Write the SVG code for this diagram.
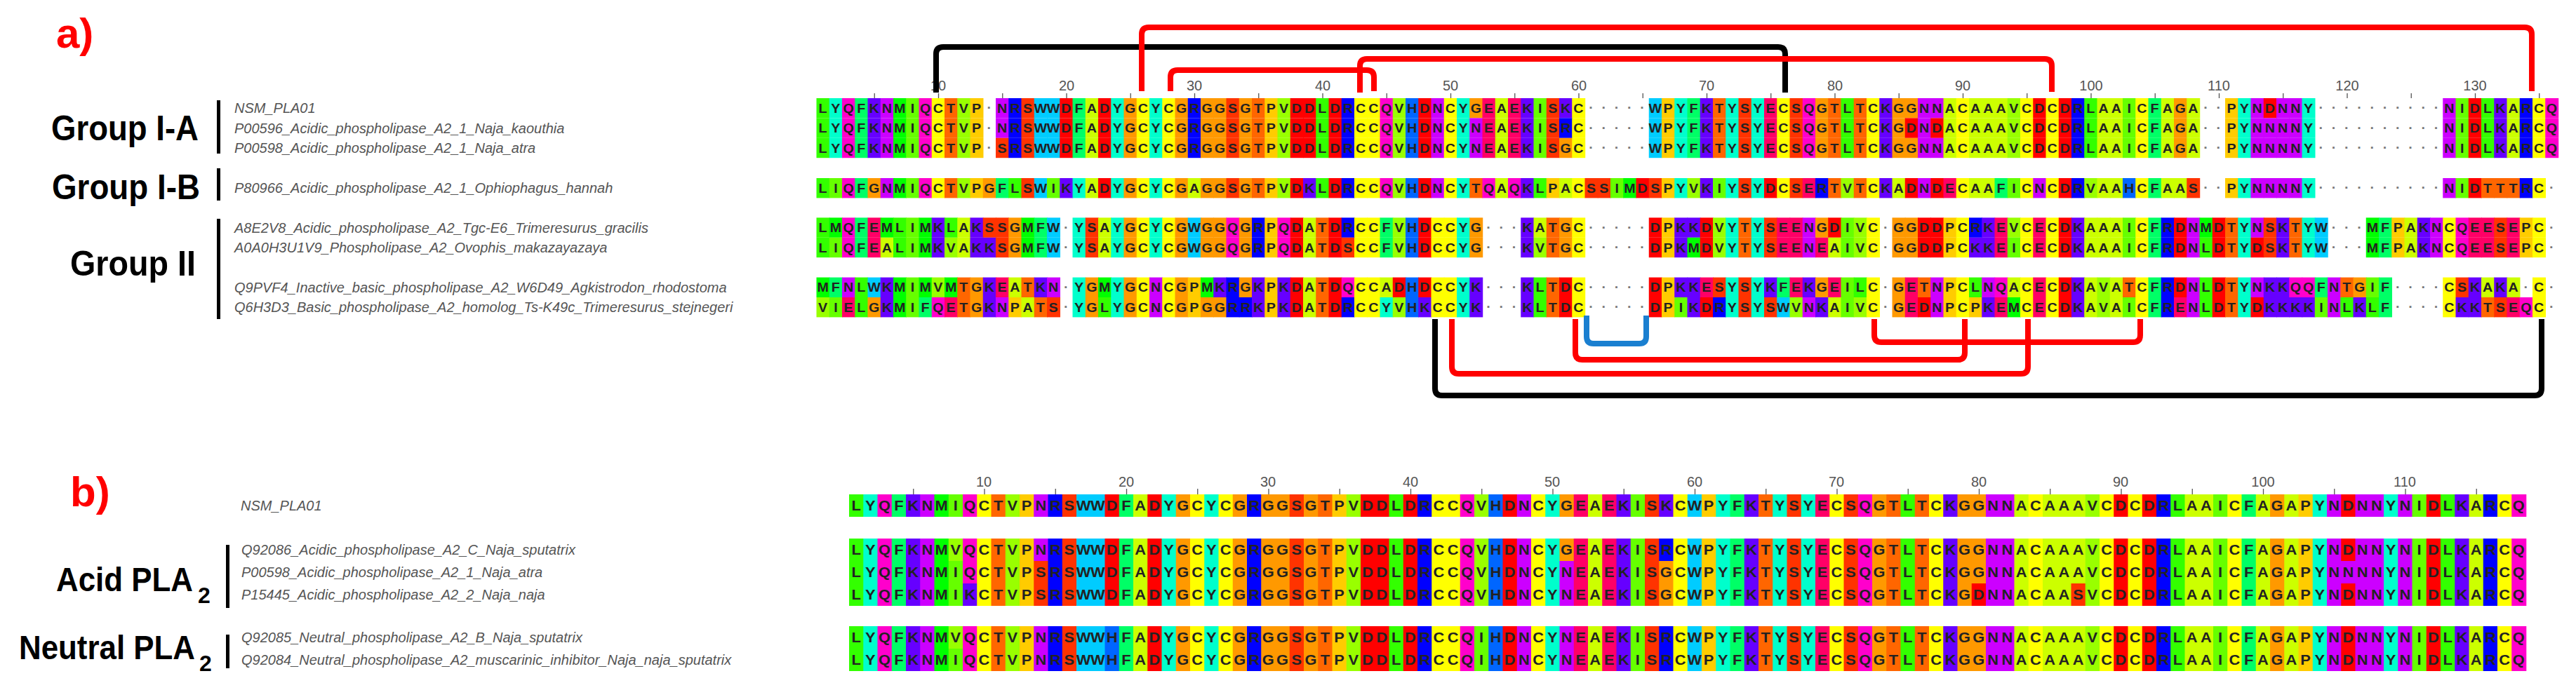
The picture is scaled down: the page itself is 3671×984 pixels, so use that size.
<svg xmlns="http://www.w3.org/2000/svg" width="3671" height="984" viewBox="0 0 3671 984">
<style>
.t{font-family:"Liberation Sans",Arial,sans-serif;font-size:18px;font-weight:bold;fill:#222;text-anchor:middle;transform:translate(.5px,.5px) scale(.06,.0352)}
.grp{font-family:"Liberation Sans",Arial,sans-serif;font-weight:bold;fill:#000}
.nm{font-family:"Liberation Sans",Arial,sans-serif;font-style:italic;font-size:20px;fill:#555}
.num{font-family:"Liberation Sans",Arial,sans-serif;font-size:20px;fill:#555;text-anchor:middle}
.lab{font-family:"Liberation Sans",Arial,sans-serif;font-weight:bold;font-size:60px;fill:#ff0000}
.bar{fill:#000}
.ln{fill:none;stroke-width:8;stroke-linecap:butt;stroke-linejoin:round}
.s>:nth-child(2){transform:translate(1px)}.s>:nth-child(3){transform:translate(2px)}.s>:nth-child(4){transform:translate(3px)}.s>:nth-child(5){transform:translate(4px)}.s>:nth-child(6){transform:translate(5px)}.s>:nth-child(7){transform:translate(6px)}.s>:nth-child(8){transform:translate(7px)}.s>:nth-child(9){transform:translate(8px)}.s>:nth-child(10){transform:translate(9px)}
.s>:nth-child(11){transform:translate(10px)}.s>:nth-child(12){transform:translate(11px)}.s>:nth-child(13){transform:translate(12px)}.s>:nth-child(14){transform:translate(13px)}.s>:nth-child(15){transform:translate(14px)}.s>:nth-child(16){transform:translate(15px)}.s>:nth-child(17){transform:translate(16px)}.s>:nth-child(18){transform:translate(17px)}.s>:nth-child(19){transform:translate(18px)}.s>:nth-child(20){transform:translate(19px)}
.s>:nth-child(21){transform:translate(20px)}.s>:nth-child(22){transform:translate(21px)}.s>:nth-child(23){transform:translate(22px)}.s>:nth-child(24){transform:translate(23px)}.s>:nth-child(25){transform:translate(24px)}.s>:nth-child(26){transform:translate(25px)}.s>:nth-child(27){transform:translate(26px)}.s>:nth-child(28){transform:translate(27px)}.s>:nth-child(29){transform:translate(28px)}.s>:nth-child(30){transform:translate(29px)}
.s>:nth-child(31){transform:translate(30px)}.s>:nth-child(32){transform:translate(31px)}.s>:nth-child(33){transform:translate(32px)}.s>:nth-child(34){transform:translate(33px)}.s>:nth-child(35){transform:translate(34px)}.s>:nth-child(36){transform:translate(35px)}.s>:nth-child(37){transform:translate(36px)}.s>:nth-child(38){transform:translate(37px)}.s>:nth-child(39){transform:translate(38px)}.s>:nth-child(40){transform:translate(39px)}
.s>:nth-child(41){transform:translate(40px)}.s>:nth-child(42){transform:translate(41px)}.s>:nth-child(43){transform:translate(42px)}.s>:nth-child(44){transform:translate(43px)}.s>:nth-child(45){transform:translate(44px)}.s>:nth-child(46){transform:translate(45px)}.s>:nth-child(47){transform:translate(46px)}.s>:nth-child(48){transform:translate(47px)}.s>:nth-child(49){transform:translate(48px)}.s>:nth-child(50){transform:translate(49px)}
.s>:nth-child(51){transform:translate(50px)}.s>:nth-child(52){transform:translate(51px)}.s>:nth-child(53){transform:translate(52px)}.s>:nth-child(54){transform:translate(53px)}.s>:nth-child(55){transform:translate(54px)}.s>:nth-child(56){transform:translate(55px)}.s>:nth-child(57){transform:translate(56px)}.s>:nth-child(58){transform:translate(57px)}.s>:nth-child(59){transform:translate(58px)}.s>:nth-child(60){transform:translate(59px)}
.s>:nth-child(61){transform:translate(60px)}.s>:nth-child(62){transform:translate(61px)}.s>:nth-child(63){transform:translate(62px)}.s>:nth-child(64){transform:translate(63px)}.s>:nth-child(65){transform:translate(64px)}.s>:nth-child(66){transform:translate(65px)}.s>:nth-child(67){transform:translate(66px)}.s>:nth-child(68){transform:translate(67px)}.s>:nth-child(69){transform:translate(68px)}.s>:nth-child(70){transform:translate(69px)}
.s>:nth-child(71){transform:translate(70px)}.s>:nth-child(72){transform:translate(71px)}.s>:nth-child(73){transform:translate(72px)}.s>:nth-child(74){transform:translate(73px)}.s>:nth-child(75){transform:translate(74px)}.s>:nth-child(76){transform:translate(75px)}.s>:nth-child(77){transform:translate(76px)}.s>:nth-child(78){transform:translate(77px)}.s>:nth-child(79){transform:translate(78px)}.s>:nth-child(80){transform:translate(79px)}
.s>:nth-child(81){transform:translate(80px)}.s>:nth-child(82){transform:translate(81px)}.s>:nth-child(83){transform:translate(82px)}.s>:nth-child(84){transform:translate(83px)}.s>:nth-child(85){transform:translate(84px)}.s>:nth-child(86){transform:translate(85px)}.s>:nth-child(87){transform:translate(86px)}.s>:nth-child(88){transform:translate(87px)}.s>:nth-child(89){transform:translate(88px)}.s>:nth-child(90){transform:translate(89px)}
.s>:nth-child(91){transform:translate(90px)}.s>:nth-child(92){transform:translate(91px)}.s>:nth-child(93){transform:translate(92px)}.s>:nth-child(94){transform:translate(93px)}.s>:nth-child(95){transform:translate(94px)}.s>:nth-child(96){transform:translate(95px)}.s>:nth-child(97){transform:translate(96px)}.s>:nth-child(98){transform:translate(97px)}.s>:nth-child(99){transform:translate(98px)}.s>:nth-child(100){transform:translate(99px)}
.s>:nth-child(101){transform:translate(100px)}.s>:nth-child(102){transform:translate(101px)}.s>:nth-child(103){transform:translate(102px)}.s>:nth-child(104){transform:translate(103px)}.s>:nth-child(105){transform:translate(104px)}.s>:nth-child(106){transform:translate(105px)}.s>:nth-child(107){transform:translate(106px)}.s>:nth-child(108){transform:translate(107px)}.s>:nth-child(109){transform:translate(108px)}.s>:nth-child(110){transform:translate(109px)}
.s>:nth-child(111){transform:translate(110px)}.s>:nth-child(112){transform:translate(111px)}.s>:nth-child(113){transform:translate(112px)}.s>:nth-child(114){transform:translate(113px)}.s>:nth-child(115){transform:translate(114px)}.s>:nth-child(116){transform:translate(115px)}.s>:nth-child(117){transform:translate(116px)}.s>:nth-child(118){transform:translate(117px)}.s>:nth-child(119){transform:translate(118px)}.s>:nth-child(120){transform:translate(119px)}
.s>:nth-child(121){transform:translate(120px)}.s>:nth-child(122){transform:translate(121px)}.s>:nth-child(123){transform:translate(122px)}.s>:nth-child(124){transform:translate(123px)}.s>:nth-child(125){transform:translate(124px)}.s>:nth-child(126){transform:translate(125px)}.s>:nth-child(127){transform:translate(126px)}.s>:nth-child(128){transform:translate(127px)}.s>:nth-child(129){transform:translate(128px)}.s>:nth-child(130){transform:translate(129px)}
.s>:nth-child(131){transform:translate(130px)}.s>:nth-child(132){transform:translate(131px)}.s>:nth-child(133){transform:translate(132px)}.s>:nth-child(134){transform:translate(133px)}.s>:nth-child(135){transform:translate(134px)}.s>:nth-child(136){transform:translate(135px)}
</style>
<defs>
<g id="A"><rect width="1.04" height="1" fill="#CCFF00"/><text class="t" y="6.5">A</text></g>
<g id="R"><rect width="1.04" height="1" fill="#0000FF"/><text class="t" y="6.5">R</text></g>
<g id="N"><rect width="1.04" height="1" fill="#CC00FF"/><text class="t" y="6.5">N</text></g>
<g id="D"><rect width="1.04" height="1" fill="#FF0000"/><text class="t" y="6.5">D</text></g>
<g id="C"><rect width="1.04" height="1" fill="#FFFF00"/><text class="t" y="6.5">C</text></g>
<g id="Q"><rect width="1.04" height="1" fill="#FF00CC"/><text class="t" y="6.5">Q</text></g>
<g id="E"><rect width="1.04" height="1" fill="#FF0066"/><text class="t" y="6.5">E</text></g>
<g id="G"><rect width="1.04" height="1" fill="#FF9900"/><text class="t" y="6.5">G</text></g>
<g id="H"><rect width="1.04" height="1" fill="#0066FF"/><text class="t" y="6.5">H</text></g>
<g id="I"><rect width="1.04" height="1" fill="#66FF00"/><text class="t" y="6.5">I</text></g>
<g id="L"><rect width="1.04" height="1" fill="#33FF00"/><text class="t" y="6.5">L</text></g>
<g id="K"><rect width="1.04" height="1" fill="#6600FF"/><text class="t" y="6.5">K</text></g>
<g id="M"><rect width="1.04" height="1" fill="#00FF00"/><text class="t" y="6.5">M</text></g>
<g id="F"><rect width="1.04" height="1" fill="#00FF66"/><text class="t" y="6.5">F</text></g>
<g id="P"><rect width="1.04" height="1" fill="#FFCC00"/><text class="t" y="6.5">P</text></g>
<g id="S"><rect width="1.04" height="1" fill="#FF3300"/><text class="t" y="6.5">S</text></g>
<g id="T"><rect width="1.04" height="1" fill="#FF6600"/><text class="t" y="6.5">T</text></g>
<g id="W"><rect width="1.04" height="1" fill="#00CCFF"/><text class="t" y="6.5">W</text></g>
<g id="Y"><rect width="1.04" height="1" fill="#00FFCC"/><text class="t" y="6.5">Y</text></g>
<g id="V"><rect width="1.04" height="1" fill="#99FF00"/><text class="t" y="6.5">V</text></g>
<g id="z"><text class="t" y="6" style="fill:#777">·</text></g>
</defs>
<rect width="3671" height="984" fill="#fff"/>

<g id="panel-a-labels">
<text class="lab" x="80" y="68">a)</text>
<text class="grp" x="73" y="200" font-size="50" textLength="210" lengthAdjust="spacingAndGlyphs">Group I-A</text>
<text class="grp" x="74" y="284" font-size="50" textLength="211" lengthAdjust="spacingAndGlyphs">Group I-B</text>
<text class="grp" x="100" y="393" font-size="50" textLength="179" lengthAdjust="spacingAndGlyphs">Group II</text>
<rect class="bar" x="309" y="143" width="5" height="76"/>
<rect class="bar" x="309" y="240" width="5" height="46"/>
<rect class="bar" x="309" y="312" width="5" height="143"/>
</g>
<g id="names-a">
<text class="nm" x="334" y="161">NSM_PLA01</text>
<text class="nm" x="334" y="190">P00596_Acidic_phospholipase_A2_1_Naja_kaouthia</text>
<text class="nm" x="334" y="218">P00598_Acidic_phospholipase_A2_1_Naja_atra</text>
<text class="nm" x="334" y="275">P80966_Acidic_phospholipase_A2_1_Ophiophagus_hannah</text>
<text class="nm" x="334" y="332">A8E2V8_Acidic_phospholipase_A2_Tgc-E6_Trimeresurus_gracilis</text>
<text class="nm" x="334" y="360">A0A0H3U1V9_Phospholipase_A2_Ovophis_makazayazaya</text>
<text class="nm" x="334" y="417">Q9PVF4_Inactive_basic_phospholipase_A2_W6D49_Agkistrodon_rhodostoma</text>
<text class="nm" x="334" y="445">Q6H3D3_Basic_phospholipase_A2_homolog_Ts-K49c_Trimeresurus_stejnegeri</text>
</g>
<g id="ruler-a">
<path d="M1245.6 136.5H3620" stroke="#555" stroke-width="7" stroke-dasharray="1.3 89.95"/>
<text class="num" x="1337" y="129">10</text><text class="num" x="1520" y="129">20</text><text class="num" x="1702" y="129">30</text><text class="num" x="1885" y="129">40</text><text class="num" x="2067" y="129">50</text><text class="num" x="2250" y="129">60</text><text class="num" x="2432" y="129">70</text><text class="num" x="2615" y="129">80</text><text class="num" x="2797" y="129">90</text><text class="num" x="2980" y="129">100</text><text class="num" x="3162" y="129">110</text><text class="num" x="3345" y="129">120</text><text class="num" x="3527" y="129">130</text>
</g>

<g id="seq-a1" class="s" transform="translate(1163.5,140) scale(18.25,28.4)"><use href="#L"/><use href="#Y"/><use href="#Q"/><use href="#F"/><use href="#K"/><use href="#N"/><use href="#M"/><use href="#I"/><use href="#Q"/><use href="#C"/><use href="#T"/><use href="#V"/><use href="#P"/><use href="#z"/><use href="#N"/><use href="#R"/><use href="#S"/><use href="#W"/><use href="#W"/><use href="#D"/><use href="#F"/><use href="#A"/><use href="#D"/><use href="#Y"/><use href="#G"/><use href="#C"/><use href="#Y"/><use href="#C"/><use href="#G"/><use href="#R"/><use href="#G"/><use href="#G"/><use href="#S"/><use href="#G"/><use href="#T"/><use href="#P"/><use href="#V"/><use href="#D"/><use href="#D"/><use href="#L"/><use href="#D"/><use href="#R"/><use href="#C"/><use href="#C"/><use href="#Q"/><use href="#V"/><use href="#H"/><use href="#D"/><use href="#N"/><use href="#C"/><use href="#Y"/><use href="#G"/><use href="#E"/><use href="#A"/><use href="#E"/><use href="#K"/><use href="#I"/><use href="#S"/><use href="#K"/><use href="#C"/><use href="#z"/><use href="#z"/><use href="#z"/><use href="#z"/><use href="#z"/><use href="#W"/><use href="#P"/><use href="#Y"/><use href="#F"/><use href="#K"/><use href="#T"/><use href="#Y"/><use href="#S"/><use href="#Y"/><use href="#E"/><use href="#C"/><use href="#S"/><use href="#Q"/><use href="#G"/><use href="#T"/><use href="#L"/><use href="#T"/><use href="#C"/><use href="#K"/><use href="#G"/><use href="#G"/><use href="#N"/><use href="#N"/><use href="#A"/><use href="#C"/><use href="#A"/><use href="#A"/><use href="#A"/><use href="#V"/><use href="#C"/><use href="#D"/><use href="#C"/><use href="#D"/><use href="#R"/><use href="#L"/><use href="#A"/><use href="#A"/><use href="#I"/><use href="#C"/><use href="#F"/><use href="#A"/><use href="#G"/><use href="#A"/><use href="#z"/><use href="#z"/><use href="#P"/><use href="#Y"/><use href="#N"/><use href="#D"/><use href="#N"/><use href="#N"/><use href="#Y"/><use href="#z"/><use href="#z"/><use href="#z"/><use href="#z"/><use href="#z"/><use href="#z"/><use href="#z"/><use href="#z"/><use href="#z"/><use href="#z"/><use href="#N"/><use href="#I"/><use href="#D"/><use href="#L"/><use href="#K"/><use href="#A"/><use href="#R"/><use href="#C"/><use href="#Q"/></g>

<g id="seq-a2" class="s" transform="translate(1163.5,168.4) scale(18.25,28.4)"><use href="#L"/><use href="#Y"/><use href="#Q"/><use href="#F"/><use href="#K"/><use href="#N"/><use href="#M"/><use href="#I"/><use href="#Q"/><use href="#C"/><use href="#T"/><use href="#V"/><use href="#P"/><use href="#z"/><use href="#N"/><use href="#R"/><use href="#S"/><use href="#W"/><use href="#W"/><use href="#D"/><use href="#F"/><use href="#A"/><use href="#D"/><use href="#Y"/><use href="#G"/><use href="#C"/><use href="#Y"/><use href="#C"/><use href="#G"/><use href="#R"/><use href="#G"/><use href="#G"/><use href="#S"/><use href="#G"/><use href="#T"/><use href="#P"/><use href="#V"/><use href="#D"/><use href="#D"/><use href="#L"/><use href="#D"/><use href="#R"/><use href="#C"/><use href="#C"/><use href="#Q"/><use href="#V"/><use href="#H"/><use href="#D"/><use href="#N"/><use href="#C"/><use href="#Y"/><use href="#N"/><use href="#E"/><use href="#A"/><use href="#E"/><use href="#K"/><use href="#I"/><use href="#S"/><use href="#R"/><use href="#C"/><use href="#z"/><use href="#z"/><use href="#z"/><use href="#z"/><use href="#z"/><use href="#W"/><use href="#P"/><use href="#Y"/><use href="#F"/><use href="#K"/><use href="#T"/><use href="#Y"/><use href="#S"/><use href="#Y"/><use href="#E"/><use href="#C"/><use href="#S"/><use href="#Q"/><use href="#G"/><use href="#T"/><use href="#L"/><use href="#T"/><use href="#C"/><use href="#K"/><use href="#G"/><use href="#D"/><use href="#N"/><use href="#D"/><use href="#A"/><use href="#C"/><use href="#A"/><use href="#A"/><use href="#A"/><use href="#V"/><use href="#C"/><use href="#D"/><use href="#C"/><use href="#D"/><use href="#R"/><use href="#L"/><use href="#A"/><use href="#A"/><use href="#I"/><use href="#C"/><use href="#F"/><use href="#A"/><use href="#G"/><use href="#A"/><use href="#z"/><use href="#z"/><use href="#P"/><use href="#Y"/><use href="#N"/><use href="#N"/><use href="#N"/><use href="#N"/><use href="#Y"/><use href="#z"/><use href="#z"/><use href="#z"/><use href="#z"/><use href="#z"/><use href="#z"/><use href="#z"/><use href="#z"/><use href="#z"/><use href="#z"/><use href="#N"/><use href="#I"/><use href="#D"/><use href="#L"/><use href="#K"/><use href="#A"/><use href="#R"/><use href="#C"/><use href="#Q"/></g>

<g id="seq-a3" class="s" transform="translate(1163.5,196.8) scale(18.25,28.4)"><use href="#L"/><use href="#Y"/><use href="#Q"/><use href="#F"/><use href="#K"/><use href="#N"/><use href="#M"/><use href="#I"/><use href="#Q"/><use href="#C"/><use href="#T"/><use href="#V"/><use href="#P"/><use href="#z"/><use href="#S"/><use href="#R"/><use href="#S"/><use href="#W"/><use href="#W"/><use href="#D"/><use href="#F"/><use href="#A"/><use href="#D"/><use href="#Y"/><use href="#G"/><use href="#C"/><use href="#Y"/><use href="#C"/><use href="#G"/><use href="#R"/><use href="#G"/><use href="#G"/><use href="#S"/><use href="#G"/><use href="#T"/><use href="#P"/><use href="#V"/><use href="#D"/><use href="#D"/><use href="#L"/><use href="#D"/><use href="#R"/><use href="#C"/><use href="#C"/><use href="#Q"/><use href="#V"/><use href="#H"/><use href="#D"/><use href="#N"/><use href="#C"/><use href="#Y"/><use href="#N"/><use href="#E"/><use href="#A"/><use href="#E"/><use href="#K"/><use href="#I"/><use href="#S"/><use href="#G"/><use href="#C"/><use href="#z"/><use href="#z"/><use href="#z"/><use href="#z"/><use href="#z"/><use href="#W"/><use href="#P"/><use href="#Y"/><use href="#F"/><use href="#K"/><use href="#T"/><use href="#Y"/><use href="#S"/><use href="#Y"/><use href="#E"/><use href="#C"/><use href="#S"/><use href="#Q"/><use href="#G"/><use href="#T"/><use href="#L"/><use href="#T"/><use href="#C"/><use href="#K"/><use href="#G"/><use href="#G"/><use href="#N"/><use href="#N"/><use href="#A"/><use href="#C"/><use href="#A"/><use href="#A"/><use href="#A"/><use href="#V"/><use href="#C"/><use href="#D"/><use href="#C"/><use href="#D"/><use href="#R"/><use href="#L"/><use href="#A"/><use href="#A"/><use href="#I"/><use href="#C"/><use href="#F"/><use href="#A"/><use href="#G"/><use href="#A"/><use href="#z"/><use href="#z"/><use href="#P"/><use href="#Y"/><use href="#N"/><use href="#N"/><use href="#N"/><use href="#N"/><use href="#Y"/><use href="#z"/><use href="#z"/><use href="#z"/><use href="#z"/><use href="#z"/><use href="#z"/><use href="#z"/><use href="#z"/><use href="#z"/><use href="#z"/><use href="#N"/><use href="#I"/><use href="#D"/><use href="#L"/><use href="#K"/><use href="#A"/><use href="#R"/><use href="#C"/><use href="#Q"/></g>

<g id="seq-a4" class="s" transform="translate(1163.5,254) scale(18.25,28.4)"><use href="#L"/><use href="#I"/><use href="#Q"/><use href="#F"/><use href="#G"/><use href="#N"/><use href="#M"/><use href="#I"/><use href="#Q"/><use href="#C"/><use href="#T"/><use href="#V"/><use href="#P"/><use href="#G"/><use href="#F"/><use href="#L"/><use href="#S"/><use href="#W"/><use href="#I"/><use href="#K"/><use href="#Y"/><use href="#A"/><use href="#D"/><use href="#Y"/><use href="#G"/><use href="#C"/><use href="#Y"/><use href="#C"/><use href="#G"/><use href="#A"/><use href="#G"/><use href="#G"/><use href="#S"/><use href="#G"/><use href="#T"/><use href="#P"/><use href="#V"/><use href="#D"/><use href="#K"/><use href="#L"/><use href="#D"/><use href="#R"/><use href="#C"/><use href="#C"/><use href="#Q"/><use href="#V"/><use href="#H"/><use href="#D"/><use href="#N"/><use href="#C"/><use href="#Y"/><use href="#T"/><use href="#Q"/><use href="#A"/><use href="#Q"/><use href="#K"/><use href="#L"/><use href="#P"/><use href="#A"/><use href="#C"/><use href="#S"/><use href="#S"/><use href="#I"/><use href="#M"/><use href="#D"/><use href="#S"/><use href="#P"/><use href="#Y"/><use href="#V"/><use href="#K"/><use href="#I"/><use href="#Y"/><use href="#S"/><use href="#Y"/><use href="#D"/><use href="#C"/><use href="#S"/><use href="#E"/><use href="#R"/><use href="#T"/><use href="#V"/><use href="#T"/><use href="#C"/><use href="#K"/><use href="#A"/><use href="#D"/><use href="#N"/><use href="#D"/><use href="#E"/><use href="#C"/><use href="#A"/><use href="#A"/><use href="#F"/><use href="#I"/><use href="#C"/><use href="#N"/><use href="#C"/><use href="#D"/><use href="#R"/><use href="#V"/><use href="#A"/><use href="#A"/><use href="#H"/><use href="#C"/><use href="#F"/><use href="#A"/><use href="#A"/><use href="#S"/><use href="#z"/><use href="#z"/><use href="#P"/><use href="#Y"/><use href="#N"/><use href="#N"/><use href="#N"/><use href="#N"/><use href="#Y"/><use href="#z"/><use href="#z"/><use href="#z"/><use href="#z"/><use href="#z"/><use href="#z"/><use href="#z"/><use href="#z"/><use href="#z"/><use href="#z"/><use href="#N"/><use href="#I"/><use href="#D"/><use href="#T"/><use href="#T"/><use href="#T"/><use href="#R"/><use href="#C"/><use href="#z"/></g>

<g id="seq-a5" class="s" transform="translate(1163.5,310.4) scale(18.25,28.4)"><use href="#L"/><use href="#M"/><use href="#Q"/><use href="#F"/><use href="#E"/><use href="#M"/><use href="#L"/><use href="#I"/><use href="#M"/><use href="#K"/><use href="#L"/><use href="#A"/><use href="#K"/><use href="#S"/><use href="#S"/><use href="#G"/><use href="#M"/><use href="#F"/><use href="#W"/><use href="#z"/><use href="#Y"/><use href="#S"/><use href="#A"/><use href="#Y"/><use href="#G"/><use href="#C"/><use href="#Y"/><use href="#C"/><use href="#G"/><use href="#W"/><use href="#G"/><use href="#G"/><use href="#Q"/><use href="#G"/><use href="#R"/><use href="#P"/><use href="#Q"/><use href="#D"/><use href="#A"/><use href="#T"/><use href="#D"/><use href="#R"/><use href="#C"/><use href="#C"/><use href="#F"/><use href="#V"/><use href="#H"/><use href="#D"/><use href="#C"/><use href="#C"/><use href="#Y"/><use href="#G"/><use href="#z"/><use href="#z"/><use href="#z"/><use href="#K"/><use href="#A"/><use href="#T"/><use href="#G"/><use href="#C"/><use href="#z"/><use href="#z"/><use href="#z"/><use href="#z"/><use href="#z"/><use href="#D"/><use href="#P"/><use href="#K"/><use href="#K"/><use href="#D"/><use href="#V"/><use href="#Y"/><use href="#T"/><use href="#Y"/><use href="#S"/><use href="#E"/><use href="#E"/><use href="#N"/><use href="#G"/><use href="#D"/><use href="#I"/><use href="#V"/><use href="#C"/><use href="#z"/><use href="#G"/><use href="#G"/><use href="#D"/><use href="#D"/><use href="#P"/><use href="#C"/><use href="#R"/><use href="#K"/><use href="#E"/><use href="#V"/><use href="#C"/><use href="#E"/><use href="#C"/><use href="#D"/><use href="#K"/><use href="#A"/><use href="#A"/><use href="#A"/><use href="#I"/><use href="#C"/><use href="#F"/><use href="#R"/><use href="#D"/><use href="#N"/><use href="#M"/><use href="#D"/><use href="#T"/><use href="#Y"/><use href="#N"/><use href="#S"/><use href="#K"/><use href="#T"/><use href="#Y"/><use href="#W"/><use href="#z"/><use href="#z"/><use href="#z"/><use href="#M"/><use href="#F"/><use href="#P"/><use href="#A"/><use href="#K"/><use href="#N"/><use href="#C"/><use href="#Q"/><use href="#E"/><use href="#E"/><use href="#S"/><use href="#E"/><use href="#P"/><use href="#C"/><use href="#z"/></g>

<g id="seq-a6" class="s" transform="translate(1163.5,338.8) scale(18.25,28.4)"><use href="#L"/><use href="#I"/><use href="#Q"/><use href="#F"/><use href="#E"/><use href="#A"/><use href="#L"/><use href="#I"/><use href="#M"/><use href="#K"/><use href="#V"/><use href="#A"/><use href="#K"/><use href="#K"/><use href="#S"/><use href="#G"/><use href="#M"/><use href="#F"/><use href="#W"/><use href="#z"/><use href="#Y"/><use href="#S"/><use href="#A"/><use href="#Y"/><use href="#G"/><use href="#C"/><use href="#Y"/><use href="#C"/><use href="#G"/><use href="#W"/><use href="#G"/><use href="#G"/><use href="#Q"/><use href="#G"/><use href="#R"/><use href="#P"/><use href="#Q"/><use href="#D"/><use href="#A"/><use href="#T"/><use href="#D"/><use href="#S"/><use href="#C"/><use href="#C"/><use href="#F"/><use href="#V"/><use href="#H"/><use href="#D"/><use href="#C"/><use href="#C"/><use href="#Y"/><use href="#G"/><use href="#z"/><use href="#z"/><use href="#z"/><use href="#K"/><use href="#V"/><use href="#T"/><use href="#G"/><use href="#C"/><use href="#z"/><use href="#z"/><use href="#z"/><use href="#z"/><use href="#z"/><use href="#D"/><use href="#P"/><use href="#K"/><use href="#M"/><use href="#D"/><use href="#V"/><use href="#Y"/><use href="#T"/><use href="#Y"/><use href="#S"/><use href="#E"/><use href="#E"/><use href="#N"/><use href="#E"/><use href="#A"/><use href="#I"/><use href="#V"/><use href="#C"/><use href="#z"/><use href="#G"/><use href="#G"/><use href="#D"/><use href="#D"/><use href="#P"/><use href="#C"/><use href="#K"/><use href="#K"/><use href="#E"/><use href="#I"/><use href="#C"/><use href="#E"/><use href="#C"/><use href="#D"/><use href="#K"/><use href="#A"/><use href="#A"/><use href="#A"/><use href="#I"/><use href="#C"/><use href="#F"/><use href="#R"/><use href="#D"/><use href="#N"/><use href="#L"/><use href="#D"/><use href="#T"/><use href="#Y"/><use href="#D"/><use href="#S"/><use href="#K"/><use href="#T"/><use href="#Y"/><use href="#W"/><use href="#z"/><use href="#z"/><use href="#z"/><use href="#M"/><use href="#F"/><use href="#P"/><use href="#A"/><use href="#K"/><use href="#N"/><use href="#C"/><use href="#Q"/><use href="#E"/><use href="#E"/><use href="#S"/><use href="#E"/><use href="#P"/><use href="#C"/><use href="#z"/></g>

<g id="seq-a7" class="s" transform="translate(1163.5,395.6) scale(18.25,28.4)"><use href="#M"/><use href="#F"/><use href="#N"/><use href="#L"/><use href="#W"/><use href="#K"/><use href="#M"/><use href="#I"/><use href="#M"/><use href="#V"/><use href="#M"/><use href="#T"/><use href="#G"/><use href="#K"/><use href="#E"/><use href="#A"/><use href="#T"/><use href="#K"/><use href="#N"/><use href="#z"/><use href="#Y"/><use href="#G"/><use href="#M"/><use href="#Y"/><use href="#G"/><use href="#C"/><use href="#N"/><use href="#C"/><use href="#G"/><use href="#P"/><use href="#M"/><use href="#K"/><use href="#R"/><use href="#G"/><use href="#K"/><use href="#P"/><use href="#K"/><use href="#D"/><use href="#A"/><use href="#T"/><use href="#D"/><use href="#Q"/><use href="#C"/><use href="#C"/><use href="#A"/><use href="#D"/><use href="#H"/><use href="#D"/><use href="#C"/><use href="#C"/><use href="#Y"/><use href="#K"/><use href="#z"/><use href="#z"/><use href="#z"/><use href="#K"/><use href="#L"/><use href="#T"/><use href="#D"/><use href="#C"/><use href="#z"/><use href="#z"/><use href="#z"/><use href="#z"/><use href="#z"/><use href="#D"/><use href="#P"/><use href="#K"/><use href="#K"/><use href="#E"/><use href="#S"/><use href="#Y"/><use href="#S"/><use href="#Y"/><use href="#K"/><use href="#F"/><use href="#E"/><use href="#K"/><use href="#G"/><use href="#E"/><use href="#I"/><use href="#L"/><use href="#C"/><use href="#z"/><use href="#G"/><use href="#E"/><use href="#T"/><use href="#N"/><use href="#P"/><use href="#C"/><use href="#L"/><use href="#N"/><use href="#Q"/><use href="#A"/><use href="#C"/><use href="#E"/><use href="#C"/><use href="#D"/><use href="#K"/><use href="#A"/><use href="#V"/><use href="#A"/><use href="#T"/><use href="#C"/><use href="#F"/><use href="#R"/><use href="#D"/><use href="#N"/><use href="#L"/><use href="#D"/><use href="#T"/><use href="#Y"/><use href="#N"/><use href="#K"/><use href="#K"/><use href="#Q"/><use href="#Q"/><use href="#F"/><use href="#N"/><use href="#T"/><use href="#G"/><use href="#I"/><use href="#F"/><use href="#z"/><use href="#z"/><use href="#z"/><use href="#z"/><use href="#C"/><use href="#S"/><use href="#K"/><use href="#A"/><use href="#K"/><use href="#A"/><use href="#z"/><use href="#C"/><use href="#z"/></g>

<g id="seq-a8" class="s" transform="translate(1163.5,424) scale(18.25,28.4)"><use href="#V"/><use href="#I"/><use href="#E"/><use href="#L"/><use href="#G"/><use href="#K"/><use href="#M"/><use href="#I"/><use href="#F"/><use href="#Q"/><use href="#E"/><use href="#T"/><use href="#G"/><use href="#K"/><use href="#N"/><use href="#P"/><use href="#A"/><use href="#T"/><use href="#S"/><use href="#z"/><use href="#Y"/><use href="#G"/><use href="#L"/><use href="#Y"/><use href="#G"/><use href="#C"/><use href="#N"/><use href="#C"/><use href="#G"/><use href="#P"/><use href="#G"/><use href="#G"/><use href="#R"/><use href="#R"/><use href="#K"/><use href="#P"/><use href="#K"/><use href="#D"/><use href="#A"/><use href="#T"/><use href="#D"/><use href="#R"/><use href="#C"/><use href="#C"/><use href="#Y"/><use href="#V"/><use href="#H"/><use href="#K"/><use href="#C"/><use href="#C"/><use href="#Y"/><use href="#K"/><use href="#z"/><use href="#z"/><use href="#z"/><use href="#K"/><use href="#L"/><use href="#T"/><use href="#D"/><use href="#C"/><use href="#z"/><use href="#z"/><use href="#z"/><use href="#z"/><use href="#z"/><use href="#D"/><use href="#P"/><use href="#I"/><use href="#K"/><use href="#D"/><use href="#R"/><use href="#Y"/><use href="#S"/><use href="#Y"/><use href="#S"/><use href="#W"/><use href="#V"/><use href="#N"/><use href="#K"/><use href="#A"/><use href="#I"/><use href="#V"/><use href="#C"/><use href="#z"/><use href="#G"/><use href="#E"/><use href="#D"/><use href="#N"/><use href="#P"/><use href="#C"/><use href="#P"/><use href="#K"/><use href="#E"/><use href="#M"/><use href="#C"/><use href="#E"/><use href="#C"/><use href="#D"/><use href="#K"/><use href="#A"/><use href="#V"/><use href="#A"/><use href="#I"/><use href="#C"/><use href="#F"/><use href="#R"/><use href="#E"/><use href="#N"/><use href="#L"/><use href="#D"/><use href="#T"/><use href="#Y"/><use href="#D"/><use href="#K"/><use href="#K"/><use href="#K"/><use href="#K"/><use href="#I"/><use href="#N"/><use href="#L"/><use href="#K"/><use href="#L"/><use href="#F"/><use href="#z"/><use href="#z"/><use href="#z"/><use href="#z"/><use href="#C"/><use href="#K"/><use href="#K"/><use href="#T"/><use href="#S"/><use href="#E"/><use href="#Q"/><use href="#C"/><use href="#z"/></g>

<g id="connectors">
<path class="ln" stroke="#000" d="M1334 132V77Q1334 67 1344 67H2534Q2544 67 2544 77V132"/>
<path class="ln" stroke="#ff0000" d="M1627 130V49Q1627 39 1637 39H3598Q3608 39 3608 49V130"/>
<path class="ln" stroke="#ff0000" d="M1938 132V94Q1938 84 1948 84H2914Q2924 84 2924 94V131"/>
<path class="ln" stroke="#ff0000" d="M1668 130V110Q1668 100 1678 100H1948Q1958 100 1958 110V130"/>
<path class="ln" stroke="#000" d="M2045 455V554Q2045 564 2055 564H3612Q3622 564 3622 554V455"/>
<path class="ln" stroke="#ff0000" d="M2069 455V523Q2069 533 2079 533H2880Q2890 533 2890 523V455"/>
<path class="ln" stroke="#ff0000" d="M2245 455V503Q2245 513 2255 513H2790Q2800 513 2800 503V455"/>
<path class="ln" stroke="#ff0000" d="M2671 455V478Q2671 488 2681 488H3040Q3050 488 3050 478V455"/>
<path class="ln" stroke="#1a7fd0" d="M2261 450V480Q2261 490 2271 490H2336Q2346 490 2346 480V450"/>
</g>

<g id="panel-b-labels">
<text class="lab" x="100" y="722">b)</text>
<text class="grp" x="80" y="843" font-size="48" textLength="195" lengthAdjust="spacingAndGlyphs">Acid PLA</text>
<text class="grp" x="282" y="860" font-size="32">2</text>
<text class="grp" x="27" y="940" font-size="48" textLength="251" lengthAdjust="spacingAndGlyphs">Neutral PLA</text>
<text class="grp" x="284" y="957" font-size="32">2</text>
<rect class="bar" x="322" y="777" width="5" height="90"/>
<rect class="bar" x="322" y="905" width="5" height="48"/>
</g>
<g id="names-b">
<text class="nm" x="343" y="728">NSM_PLA01</text>
<text class="nm" x="344" y="791">Q92086_Acidic_phospholipase_A2_C_Naja_sputatrix</text>
<text class="nm" x="344" y="823">P00598_Acidic_phospholipase_A2_1_Naja_atra</text>
<text class="nm" x="344" y="855">P15445_Acidic_phospholipase_A2_2_Naja_naja</text>
<text class="nm" x="344" y="916">Q92085_Neutral_phospholipase_A2_B_Naja_sputatrix</text>
<text class="nm" x="344" y="948">Q92084_Neutral_phospholipase_A2_muscarinic_inhibitor_Naja_naja_sputatrix</text>
</g>
<g id="ruler-b">
<path d="M1301.1 701H3540" stroke="#555" stroke-width="8" stroke-dasharray="1.3 99.95"/>
<text class="num" x="1402" y="694">10</text><text class="num" x="1605" y="694">20</text><text class="num" x="1807" y="694">30</text><text class="num" x="2010" y="694">40</text><text class="num" x="2212" y="694">50</text><text class="num" x="2415" y="694">60</text><text class="num" x="2617" y="694">70</text><text class="num" x="2820" y="694">80</text><text class="num" x="3022" y="694">90</text><text class="num" x="3225" y="694">100</text><text class="num" x="3427" y="694">110</text>
</g>

<g id="seq-b1" class="s" transform="translate(1210,705) scale(20.25,32)"><use href="#L"/><use href="#Y"/><use href="#Q"/><use href="#F"/><use href="#K"/><use href="#N"/><use href="#M"/><use href="#I"/><use href="#Q"/><use href="#C"/><use href="#T"/><use href="#V"/><use href="#P"/><use href="#N"/><use href="#R"/><use href="#S"/><use href="#W"/><use href="#W"/><use href="#D"/><use href="#F"/><use href="#A"/><use href="#D"/><use href="#Y"/><use href="#G"/><use href="#C"/><use href="#Y"/><use href="#C"/><use href="#G"/><use href="#R"/><use href="#G"/><use href="#G"/><use href="#S"/><use href="#G"/><use href="#T"/><use href="#P"/><use href="#V"/><use href="#D"/><use href="#D"/><use href="#L"/><use href="#D"/><use href="#R"/><use href="#C"/><use href="#C"/><use href="#Q"/><use href="#V"/><use href="#H"/><use href="#D"/><use href="#N"/><use href="#C"/><use href="#Y"/><use href="#G"/><use href="#E"/><use href="#A"/><use href="#E"/><use href="#K"/><use href="#I"/><use href="#S"/><use href="#K"/><use href="#C"/><use href="#W"/><use href="#P"/><use href="#Y"/><use href="#F"/><use href="#K"/><use href="#T"/><use href="#Y"/><use href="#S"/><use href="#Y"/><use href="#E"/><use href="#C"/><use href="#S"/><use href="#Q"/><use href="#G"/><use href="#T"/><use href="#L"/><use href="#T"/><use href="#C"/><use href="#K"/><use href="#G"/><use href="#G"/><use href="#N"/><use href="#N"/><use href="#A"/><use href="#C"/><use href="#A"/><use href="#A"/><use href="#A"/><use href="#V"/><use href="#C"/><use href="#D"/><use href="#C"/><use href="#D"/><use href="#R"/><use href="#L"/><use href="#A"/><use href="#A"/><use href="#I"/><use href="#C"/><use href="#F"/><use href="#A"/><use href="#G"/><use href="#A"/><use href="#P"/><use href="#Y"/><use href="#N"/><use href="#D"/><use href="#N"/><use href="#N"/><use href="#Y"/><use href="#N"/><use href="#I"/><use href="#D"/><use href="#L"/><use href="#K"/><use href="#A"/><use href="#R"/><use href="#C"/><use href="#Q"/></g>

<g id="seq-b2" class="s" transform="translate(1210,768) scale(20.25,32)"><use href="#L"/><use href="#Y"/><use href="#Q"/><use href="#F"/><use href="#K"/><use href="#N"/><use href="#M"/><use href="#V"/><use href="#Q"/><use href="#C"/><use href="#T"/><use href="#V"/><use href="#P"/><use href="#N"/><use href="#R"/><use href="#S"/><use href="#W"/><use href="#W"/><use href="#D"/><use href="#F"/><use href="#A"/><use href="#D"/><use href="#Y"/><use href="#G"/><use href="#C"/><use href="#Y"/><use href="#C"/><use href="#G"/><use href="#R"/><use href="#G"/><use href="#G"/><use href="#S"/><use href="#G"/><use href="#T"/><use href="#P"/><use href="#V"/><use href="#D"/><use href="#D"/><use href="#L"/><use href="#D"/><use href="#R"/><use href="#C"/><use href="#C"/><use href="#Q"/><use href="#V"/><use href="#H"/><use href="#D"/><use href="#N"/><use href="#C"/><use href="#Y"/><use href="#G"/><use href="#E"/><use href="#A"/><use href="#E"/><use href="#K"/><use href="#I"/><use href="#S"/><use href="#R"/><use href="#C"/><use href="#W"/><use href="#P"/><use href="#Y"/><use href="#F"/><use href="#K"/><use href="#T"/><use href="#Y"/><use href="#S"/><use href="#Y"/><use href="#E"/><use href="#C"/><use href="#S"/><use href="#Q"/><use href="#G"/><use href="#T"/><use href="#L"/><use href="#T"/><use href="#C"/><use href="#K"/><use href="#G"/><use href="#G"/><use href="#N"/><use href="#N"/><use href="#A"/><use href="#C"/><use href="#A"/><use href="#A"/><use href="#A"/><use href="#V"/><use href="#C"/><use href="#D"/><use href="#C"/><use href="#D"/><use href="#R"/><use href="#L"/><use href="#A"/><use href="#A"/><use href="#I"/><use href="#C"/><use href="#F"/><use href="#A"/><use href="#G"/><use href="#A"/><use href="#P"/><use href="#Y"/><use href="#N"/><use href="#D"/><use href="#N"/><use href="#N"/><use href="#Y"/><use href="#N"/><use href="#I"/><use href="#D"/><use href="#L"/><use href="#K"/><use href="#A"/><use href="#R"/><use href="#C"/><use href="#Q"/></g>

<g id="seq-b3" class="s" transform="translate(1210,800) scale(20.25,32)"><use href="#L"/><use href="#Y"/><use href="#Q"/><use href="#F"/><use href="#K"/><use href="#N"/><use href="#M"/><use href="#I"/><use href="#Q"/><use href="#C"/><use href="#T"/><use href="#V"/><use href="#P"/><use href="#S"/><use href="#R"/><use href="#S"/><use href="#W"/><use href="#W"/><use href="#D"/><use href="#F"/><use href="#A"/><use href="#D"/><use href="#Y"/><use href="#G"/><use href="#C"/><use href="#Y"/><use href="#C"/><use href="#G"/><use href="#R"/><use href="#G"/><use href="#G"/><use href="#S"/><use href="#G"/><use href="#T"/><use href="#P"/><use href="#V"/><use href="#D"/><use href="#D"/><use href="#L"/><use href="#D"/><use href="#R"/><use href="#C"/><use href="#C"/><use href="#Q"/><use href="#V"/><use href="#H"/><use href="#D"/><use href="#N"/><use href="#C"/><use href="#Y"/><use href="#N"/><use href="#E"/><use href="#A"/><use href="#E"/><use href="#K"/><use href="#I"/><use href="#S"/><use href="#G"/><use href="#C"/><use href="#W"/><use href="#P"/><use href="#Y"/><use href="#F"/><use href="#K"/><use href="#T"/><use href="#Y"/><use href="#S"/><use href="#Y"/><use href="#E"/><use href="#C"/><use href="#S"/><use href="#Q"/><use href="#G"/><use href="#T"/><use href="#L"/><use href="#T"/><use href="#C"/><use href="#K"/><use href="#G"/><use href="#G"/><use href="#N"/><use href="#N"/><use href="#A"/><use href="#C"/><use href="#A"/><use href="#A"/><use href="#A"/><use href="#V"/><use href="#C"/><use href="#D"/><use href="#C"/><use href="#D"/><use href="#R"/><use href="#L"/><use href="#A"/><use href="#A"/><use href="#I"/><use href="#C"/><use href="#F"/><use href="#A"/><use href="#G"/><use href="#A"/><use href="#P"/><use href="#Y"/><use href="#N"/><use href="#N"/><use href="#N"/><use href="#N"/><use href="#Y"/><use href="#N"/><use href="#I"/><use href="#D"/><use href="#L"/><use href="#K"/><use href="#A"/><use href="#R"/><use href="#C"/><use href="#Q"/></g>

<g id="seq-b4" class="s" transform="translate(1210,832) scale(20.25,32)"><use href="#L"/><use href="#Y"/><use href="#Q"/><use href="#F"/><use href="#K"/><use href="#N"/><use href="#M"/><use href="#I"/><use href="#K"/><use href="#C"/><use href="#T"/><use href="#V"/><use href="#P"/><use href="#S"/><use href="#R"/><use href="#S"/><use href="#W"/><use href="#W"/><use href="#D"/><use href="#F"/><use href="#A"/><use href="#D"/><use href="#Y"/><use href="#G"/><use href="#C"/><use href="#Y"/><use href="#C"/><use href="#G"/><use href="#R"/><use href="#G"/><use href="#G"/><use href="#S"/><use href="#G"/><use href="#T"/><use href="#P"/><use href="#V"/><use href="#D"/><use href="#D"/><use href="#L"/><use href="#D"/><use href="#R"/><use href="#C"/><use href="#C"/><use href="#Q"/><use href="#V"/><use href="#H"/><use href="#D"/><use href="#N"/><use href="#C"/><use href="#Y"/><use href="#N"/><use href="#E"/><use href="#A"/><use href="#E"/><use href="#K"/><use href="#I"/><use href="#S"/><use href="#G"/><use href="#C"/><use href="#W"/><use href="#P"/><use href="#Y"/><use href="#F"/><use href="#K"/><use href="#T"/><use href="#Y"/><use href="#S"/><use href="#Y"/><use href="#E"/><use href="#C"/><use href="#S"/><use href="#Q"/><use href="#G"/><use href="#T"/><use href="#L"/><use href="#T"/><use href="#C"/><use href="#K"/><use href="#G"/><use href="#D"/><use href="#N"/><use href="#N"/><use href="#A"/><use href="#C"/><use href="#A"/><use href="#A"/><use href="#S"/><use href="#V"/><use href="#C"/><use href="#D"/><use href="#C"/><use href="#D"/><use href="#R"/><use href="#L"/><use href="#A"/><use href="#A"/><use href="#I"/><use href="#C"/><use href="#F"/><use href="#A"/><use href="#G"/><use href="#A"/><use href="#P"/><use href="#Y"/><use href="#N"/><use href="#D"/><use href="#N"/><use href="#N"/><use href="#Y"/><use href="#N"/><use href="#I"/><use href="#D"/><use href="#L"/><use href="#K"/><use href="#A"/><use href="#R"/><use href="#C"/><use href="#Q"/></g>

<g id="seq-b5" class="s" transform="translate(1210,893) scale(20.25,32)"><use href="#L"/><use href="#Y"/><use href="#Q"/><use href="#F"/><use href="#K"/><use href="#N"/><use href="#M"/><use href="#V"/><use href="#Q"/><use href="#C"/><use href="#T"/><use href="#V"/><use href="#P"/><use href="#N"/><use href="#R"/><use href="#S"/><use href="#W"/><use href="#W"/><use href="#H"/><use href="#F"/><use href="#A"/><use href="#D"/><use href="#Y"/><use href="#G"/><use href="#C"/><use href="#Y"/><use href="#C"/><use href="#G"/><use href="#R"/><use href="#G"/><use href="#G"/><use href="#S"/><use href="#G"/><use href="#T"/><use href="#P"/><use href="#V"/><use href="#D"/><use href="#D"/><use href="#L"/><use href="#D"/><use href="#R"/><use href="#C"/><use href="#C"/><use href="#Q"/><use href="#I"/><use href="#H"/><use href="#D"/><use href="#N"/><use href="#C"/><use href="#Y"/><use href="#N"/><use href="#E"/><use href="#A"/><use href="#E"/><use href="#K"/><use href="#I"/><use href="#S"/><use href="#R"/><use href="#C"/><use href="#W"/><use href="#P"/><use href="#Y"/><use href="#F"/><use href="#K"/><use href="#T"/><use href="#Y"/><use href="#S"/><use href="#Y"/><use href="#E"/><use href="#C"/><use href="#S"/><use href="#Q"/><use href="#G"/><use href="#T"/><use href="#L"/><use href="#T"/><use href="#C"/><use href="#K"/><use href="#G"/><use href="#G"/><use href="#N"/><use href="#N"/><use href="#A"/><use href="#C"/><use href="#A"/><use href="#A"/><use href="#A"/><use href="#V"/><use href="#C"/><use href="#D"/><use href="#C"/><use href="#D"/><use href="#R"/><use href="#L"/><use href="#A"/><use href="#A"/><use href="#I"/><use href="#C"/><use href="#F"/><use href="#A"/><use href="#G"/><use href="#A"/><use href="#P"/><use href="#Y"/><use href="#N"/><use href="#D"/><use href="#N"/><use href="#N"/><use href="#Y"/><use href="#N"/><use href="#I"/><use href="#D"/><use href="#L"/><use href="#K"/><use href="#A"/><use href="#R"/><use href="#C"/><use href="#Q"/></g>

<g id="seq-b6" class="s" transform="translate(1210,925) scale(20.25,32)"><use href="#L"/><use href="#Y"/><use href="#Q"/><use href="#F"/><use href="#K"/><use href="#N"/><use href="#M"/><use href="#I"/><use href="#Q"/><use href="#C"/><use href="#T"/><use href="#V"/><use href="#P"/><use href="#N"/><use href="#R"/><use href="#S"/><use href="#W"/><use href="#W"/><use href="#H"/><use href="#F"/><use href="#A"/><use href="#D"/><use href="#Y"/><use href="#G"/><use href="#C"/><use href="#Y"/><use href="#C"/><use href="#G"/><use href="#R"/><use href="#G"/><use href="#G"/><use href="#S"/><use href="#G"/><use href="#T"/><use href="#P"/><use href="#V"/><use href="#D"/><use href="#D"/><use href="#L"/><use href="#D"/><use href="#R"/><use href="#C"/><use href="#C"/><use href="#Q"/><use href="#I"/><use href="#H"/><use href="#D"/><use href="#N"/><use href="#C"/><use href="#Y"/><use href="#N"/><use href="#E"/><use href="#A"/><use href="#E"/><use href="#K"/><use href="#I"/><use href="#S"/><use href="#R"/><use href="#C"/><use href="#W"/><use href="#P"/><use href="#Y"/><use href="#F"/><use href="#K"/><use href="#T"/><use href="#Y"/><use href="#S"/><use href="#Y"/><use href="#E"/><use href="#C"/><use href="#S"/><use href="#Q"/><use href="#G"/><use href="#T"/><use href="#L"/><use href="#T"/><use href="#C"/><use href="#K"/><use href="#G"/><use href="#G"/><use href="#N"/><use href="#N"/><use href="#A"/><use href="#C"/><use href="#A"/><use href="#A"/><use href="#A"/><use href="#V"/><use href="#C"/><use href="#D"/><use href="#C"/><use href="#D"/><use href="#R"/><use href="#L"/><use href="#A"/><use href="#A"/><use href="#I"/><use href="#C"/><use href="#F"/><use href="#A"/><use href="#G"/><use href="#A"/><use href="#P"/><use href="#Y"/><use href="#N"/><use href="#D"/><use href="#N"/><use href="#N"/><use href="#Y"/><use href="#N"/><use href="#I"/><use href="#D"/><use href="#L"/><use href="#K"/><use href="#A"/><use href="#R"/><use href="#C"/><use href="#Q"/></g>
</svg>
